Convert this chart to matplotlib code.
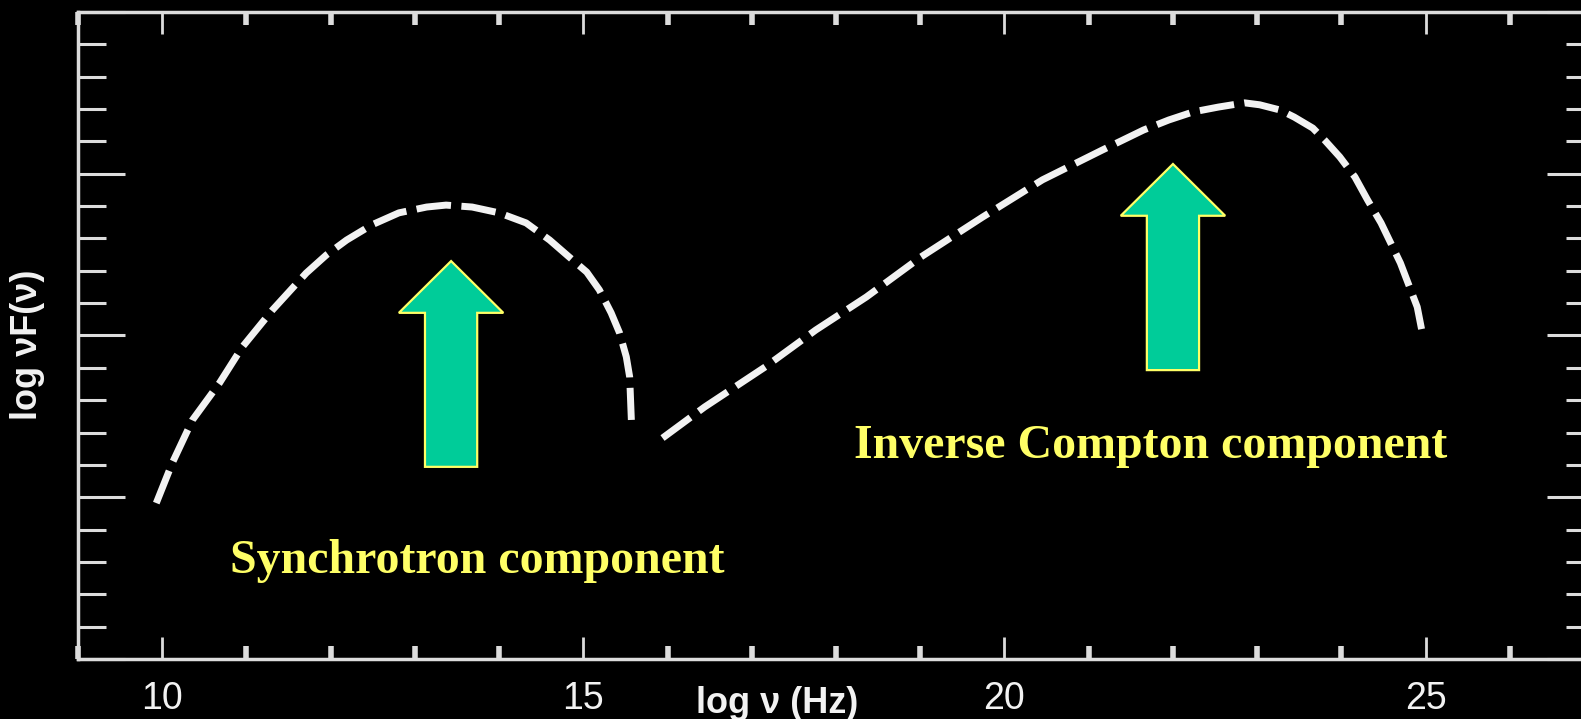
import matplotlib
matplotlib.use("Agg")
import matplotlib.pyplot as plt
from matplotlib.patches import FancyArrow
from matplotlib.ticker import MultipleLocator

# SED curves: log frequency vs log nu F(nu)
sync_x = [9.93, 10.12, 10.36, 10.68, 10.95, 11.31, 11.71, 11.95, 12.19, 12.49,
          12.81, 13.14, 13.37, 13.68, 14.00, 14.32, 14.60, 14.83, 15.04, 15.19,
          15.33, 15.43, 15.51, 15.55, 15.57]
sync_y = [4.82, 6.06, 7.39, 8.53, 9.64, 10.79, 11.93, 12.49, 12.95, 13.42,
          13.79, 13.97, 14.03, 13.97, 13.79, 13.48, 12.95, 12.43, 11.96, 11.41,
          10.70, 10.08, 9.34, 8.72, 7.39]

ic_x = [15.94, 16.44, 17.16, 17.76, 18.36, 19.01, 19.74, 20.45, 21.16, 21.65,
        21.95, 22.24, 22.54, 22.85, 23.03, 23.27, 23.44, 23.66, 23.80, 23.98,
        24.16, 24.31, 24.47, 24.70, 24.90, 24.96]
ic_y = [6.83, 7.79, 9.03, 10.17, 11.19, 12.43, 13.66, 14.81, 15.73, 16.35,
        16.66, 16.91, 17.06, 17.19, 17.13, 16.97, 16.75, 16.41, 16.04, 15.52,
        14.90, 14.19, 13.48, 12.24, 10.88, 10.08]

x_ticks = [10, 15, 20, 25]
x_ticklabels = ["10", "15", "20", "25"]

# marker arrows pointing at the two humps
arrow_x = [13.43, 22.0]
arrow_tail = [5.94, 8.93]
arrow_tip = [12.30, 15.30]

labels = ["Synchrotron component", "Inverse Compton component"]
label_x = [10.80, 18.21]
label_y = [2.66, 6.21]

FG = "#f2f2f2"
AXC = "#dcdcdc"
YELLOW = "#ffff66"
GREEN = "#00cc99"
SANS = ["Liberation Sans", "DejaVu Sans"]
SERIF = ["Liberation Serif", "DejaVu Serif"]

fig = plt.figure(figsize=(15.81, 7.19), dpi=100, facecolor="black")
ax = fig.add_axes([0.0493, 0.0834, 0.959, 0.900])
ax.set_facecolor("black")

dash = dict(color=FG, lw=5, linestyle=(0, (5.0, 1.5)), dash_capstyle="butt",
            dash_joinstyle="round")
ax.plot(sync_x, sync_y, **dash)
ax.plot(ic_x, ic_y, **dash)

for x, y0, y1 in zip(arrow_x, arrow_tail, arrow_tip):
    ax.add_patch(FancyArrow(x, y0, 0, y1 - y0, width=0.62, head_width=1.24,
                            head_length=1.6, length_includes_head=True,
                            fc=GREEN, ec=YELLOW, lw=1.6, zorder=3))

for txt, x, y in zip(labels, label_x, label_y):
    ax.text(x, y, txt, color=YELLOW, family=SERIF, fontweight="bold",
            fontsize=34.5, ha="left", va="baseline")

ax.set_xlim(9, 27)
ax.set_ylim(0, 20)

ax.set_xticks(x_ticks)
ax.set_xticklabels(x_ticklabels, family=SANS)
ax.xaxis.set_minor_locator(MultipleLocator(1))
ax.yaxis.set_major_locator(MultipleLocator(5))
ax.yaxis.set_minor_locator(MultipleLocator(1))

ax.tick_params(axis="x", which="major", direction="in", top=True, bottom=True,
               length=16, width=2, color=AXC, labelsize=27, labelcolor=FG, pad=16)
ax.tick_params(axis="x", which="minor", direction="in", top=True, bottom=True,
               length=9.5, width=4, color=AXC)
ax.tick_params(axis="y", which="major", direction="in", left=True, right=True,
               length=34, width=2.2, color=AXC, labelleft=False)
ax.tick_params(axis="y", which="minor", direction="in", left=True, right=True,
               length=20, width=2.2, color=AXC)

for sp in ax.spines.values():
    sp.set_color(AXC)
    sp.set_linewidth(2.5)

ax.set_xlabel("log ν (Hz)", color=FG, family=SANS, fontweight="bold", fontsize=26)
ax.xaxis.label.set_va("baseline")
ax.xaxis.set_label_coords(0.461, -0.0835)

ax.set_ylabel("log νF(ν)", color=FG, family=SANS, fontweight="bold", fontsize=26)
ax.yaxis.label.set_va("center")
ax.yaxis.set_label_coords(-0.033, 0.485)

fig.savefig("out.png", dpi=100, facecolor="black")
